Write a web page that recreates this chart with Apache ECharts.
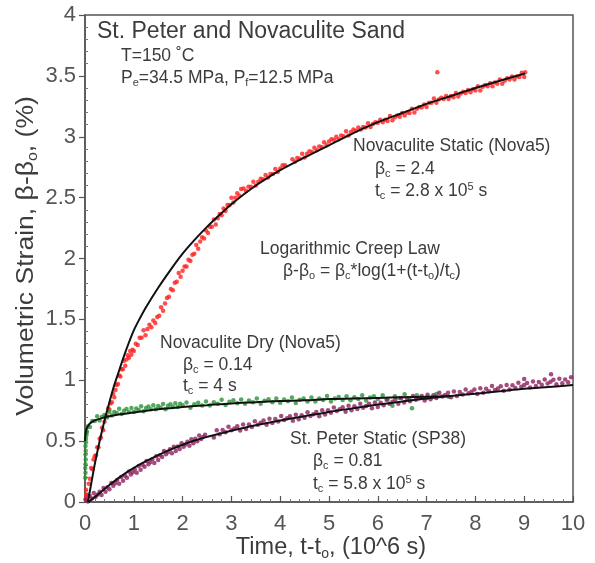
<!DOCTYPE html>
<html>
<head>
<meta charset="utf-8">
<script src="https://cdn.jsdelivr.net/npm/echarts@6/dist/echarts.min.js"></script>
<style>
  html, body { margin: 0; padding: 0; background: #fff; }
  #chart { width: 595px; height: 563px; }
</style>
</head>
<body>
<div id="chart"></div>
<script>
// Time axis in units of 10^6 s, strain in percent.
const xTicks = [0, 1, 2, 3, 4, 5, 6, 7, 8, 9, 10];
const yTicks = [0, 0.5, 1, 1.5, 2, 2.5, 3, 3.5, 4];

// Novaculite Static (Nova5) measurements [t, strain]
const novaStatic = [
  [0.01,0.02],[0.02,0.1],[0.03,0.05],[0.025,0.06],[0.05,0.06],[0.075,0.15],[0.1,0.19],[0.125,0.28],
  [0.15,0.27],[0.175,0.35],[0.2,0.375],[0.225,0.385],[0.25,0.45],[0.275,0.45],[0.3,0.52],[0.325,0.53],
  [0.35,0.61],[0.375,0.59],[0.4,0.66],[0.425,0.705],[0.45,0.705],[0.475,0.77],[0.5,0.76],[0.525,0.81],
  [0.55,0.82],[0.575,0.89],[0.6,0.86],[0.625,0.92],[0.65,0.96],[0.675,0.97],[0.7,1.04],[0.725,1.03],
  [0.75,1.09],[0.775,1.09],[0.8,1.16],[0.825,1.12],[0.85,1.17],[0.875,1.205],[0.9,1.185],[0.925,1.24],
  [0.95,1.21],[0.975,1.25],[1.0,1.24],
  [1.04,1.3],[1.08,1.29],[1.12,1.35],[1.16,1.35],[1.2,1.41],[1.24,1.37],[1.28,1.42],[1.32,1.455],
  [1.36,1.435],[1.4,1.49],[1.44,1.47],[1.48,1.52],[1.52,1.53],[1.56,1.6],[1.6,1.57],[1.64,1.63],
  [1.68,1.675],[1.72,1.685],[1.76,1.75],[1.8,1.74],[1.84,1.8],[1.88,1.81],[1.92,1.88],[1.96,1.85],
  [2.0,1.9],[2.04,1.935],[2.08,1.935],[2.12,1.99],[2.16,1.98],[2.2,2.03],[2.24,2.04],[2.28,2.11],
  [2.32,2.08],[2.36,2.14],[2.4,2.175],[2.44,2.165],[2.48,2.23],[2.52,2.21],[2.56,2.26],[2.6,2.26],
  [2.64,2.32],[2.68,2.28],[2.72,2.33],[2.76,2.365],[2.8,2.355],[2.84,2.41],[2.88,2.39],[2.92,2.44],
  [2.96,2.44],[3.0,2.5],[3.04,2.46],[3.08,2.5],[3.12,2.535],[3.16,2.515],[3.2,2.57],
  [3.25,2.575],[3.3,2.555],[3.35,2.59],[3.4,2.59],[3.45,2.63],[3.5,2.6],[3.55,2.63],[3.6,2.655],
  [3.65,2.65],[3.7,2.685],[3.75,2.665],[3.8,2.695],[3.85,2.695],[3.9,2.735],[3.95,2.71],[4.0,2.74],
  [4.05,2.765],[4.1,2.765],[4.25,2.815],[4.3,2.795],[4.35,2.825],[4.4,2.82],[4.45,2.86],[4.5,2.83],
  [4.55,2.86],[4.6,2.88],[4.65,2.875],[4.7,2.91],[4.75,2.89],[4.8,2.92],[4.85,2.915],[4.9,2.955],
  [4.95,2.93],[5.0,2.96],[5.05,2.98],[5.1,2.975],[5.15,3.0],[5.2,2.98],[5.25,3.01],[5.3,3.005],
  [5.35,3.045],[5.4,3.01],[5.45,3.04],[5.5,3.06],[5.55,3.05],[5.6,3.075],[5.65,3.06],[5.7,3.08],
  [5.75,3.075],[5.8,3.11],[5.85,3.08],[5.9,3.105],[5.95,3.12],[6.0,3.115],[6.05,3.14],[6.1,3.12],
  [6.15,3.14],[6.2,3.13],[6.25,3.17],[6.3,3.135],[6.35,3.16],[6.4,3.175],[6.45,3.165],[6.5,3.195],
  [6.55,3.175],[6.6,3.2],[6.65,3.195],[6.7,3.23],[6.75,3.2],[6.8,3.23],[6.85,3.245],[6.9,3.24],
  [6.95,3.265],[7.0,3.245],[7.05,3.28],[7.1,3.28],[7.15,3.315],[7.2,3.28],[7.22,3.53],[7.25,3.305],
  [7.3,3.32],[7.35,3.31],[7.4,3.335],[7.45,3.31],[7.5,3.335],[7.55,3.325],[7.6,3.36],[7.65,3.33],
  [7.7,3.355],[7.75,3.37],[7.8,3.36],[7.85,3.385],[7.9,3.365],[7.95,3.39],[8.0,3.38],[8.05,3.415],
  [8.1,3.38],[8.15,3.41],[8.2,3.425],[8.25,3.415],[8.3,3.44],[8.35,3.415],[8.4,3.445],[8.45,3.435],
  [8.5,3.47],[8.55,3.435],[8.6,3.46],[8.65,3.48],[8.7,3.47],[8.75,3.495],[8.8,3.47],[8.85,3.495],
  [8.9,3.49],[8.95,3.525],[9.0,3.49],[9.02,3.53]
];

// Novaculite Dry (Nova5) measurements [t, strain]
const novaDry = [
  [0.005,0.2],[0.01,0.24],[0.005,0.28],[0.01,0.31],[0.015,0.35],[0.01,0.39],[0.015,0.42],[0.01,0.46],
  [0.02,0.49],[0.02,0.52],[0.03,0.55],[0.03,0.57],[0.04,0.58],
  [0.05,0.62],[0.1,0.615],[0.15,0.665],[0.2,0.665],[0.25,0.705],[0.3,0.67],[0.35,0.7],[0.4,0.715],
  [0.45,0.695],[0.5,0.74],[0.55,0.71],[0.6,0.74],[0.65,0.73],[0.7,0.765],[0.75,0.722],[0.8,0.75],
  [0.85,0.763],[0.9,0.74],[0.95,0.772],[1.0,0.74],[1.05,0.768],[1.1,0.755],[1.15,0.787],[1.2,0.745],
  [1.25,0.773],[1.3,0.785],[1.35,0.762],[1.4,0.795],[1.45,0.761],[1.5,0.788],[1.55,0.774],[1.6,0.805],
  [1.65,0.762],[1.7,0.79],[1.75,0.802],[1.8,0.78],[1.85,0.812],[1.9,0.78],[1.95,0.807],[2.0,0.795],
  [2.08,0.818],[2.16,0.775],[2.24,0.803],[2.32,0.815],[2.4,0.792],[2.48,0.825],[2.56,0.792],[2.64,0.82],
  [2.72,0.807],[2.8,0.839],[2.88,0.796],[2.96,0.824],[3.04,0.835],[3.12,0.811],[3.2,0.842],[3.28,0.808],
  [3.36,0.834],[3.44,0.82],[3.52,0.85],[3.6,0.806],[3.68,0.832],[3.76,0.843],[3.84,0.819],[3.92,0.85],
  [4.0,0.815],[4.08,0.841],[4.16,0.827],[4.24,0.858],[4.32,0.813],[4.4,0.839],[4.48,0.85],[4.56,0.826],
  [4.64,0.858],[4.72,0.825],[4.8,0.851],[4.88,0.838],[4.96,0.87],[5.04,0.825],[5.12,0.851],[5.2,0.862],
  [5.28,0.838],[5.36,0.869],[5.44,0.835],[5.52,0.86],[5.6,0.846],[5.68,0.877],[5.76,0.833],[5.84,0.858],
  [5.92,0.869],[6.0,0.845],[6.1,0.876],[6.2,0.842],[6.3,0.79],[6.35,0.868],[6.45,0.855],[6.55,0.885],
  [6.65,0.841],[6.7,0.77],[6.8,0.877],[7.0,0.855],[7.2,0.887],[7.45,0.865]
];

// St. Peter Static (SP38) measurements [t, strain]
const stPeter = [
  [0.02,0.02],[0.06,0.005],[0.1,0.05],[0.14,0.029],[0.18,0.073],[0.22,0.044],[0.26,0.062],[0.3,0.085],
  [0.34,0.057],[0.38,0.114],[0.42,0.084],[0.46,0.122],[0.5,0.105],[0.54,0.157],[0.58,0.134],[0.62,0.155],
  [0.66,0.18],[0.7,0.15],[0.74,0.205],[0.78,0.175],[0.82,0.215],[0.86,0.2],[0.9,0.25],[0.94,0.225],
  [0.98,0.245],[1.02,0.27],[1.06,0.24],[1.1,0.295],[1.14,0.265],[1.18,0.305],[1.22,0.289],[1.26,0.337],
  [1.3,0.31],[1.34,0.328],[1.38,0.351],[1.42,0.32],[1.46,0.375],[1.5,0.345],[1.54,0.385],[1.58,0.37],
  [1.62,0.419],[1.66,0.392],[1.7,0.41],[1.74,0.433],[1.78,0.401],[1.82,0.453],[1.86,0.419],[1.9,0.455],
  [1.94,0.436],[1.98,0.482],[2.02,0.454],[2.06,0.472],[2.1,0.495],[2.14,0.463],[2.18,0.516],[2.22,0.483],
  [2.26,0.519],[2.3,0.5],[2.34,0.546],[2.38,0.517],[2.42,0.533],[2.46,0.553],
  [2.64,0.53],[2.7,0.59],[2.76,0.556],[2.82,0.592],[2.88,0.573],[2.94,0.619],[3.0,0.59],[3.06,0.604],
  [3.12,0.623],[3.18,0.587],[3.24,0.636],[3.3,0.6],[3.36,0.636],[3.42,0.617],[3.48,0.663],[3.54,0.634],
  [3.6,0.65],[3.66,0.669],[3.72,0.634],[3.78,0.683],[3.84,0.648],[3.9,0.682],[3.96,0.662],[4.02,0.706],
  [4.08,0.674],[4.14,0.687],[4.2,0.705],[4.26,0.668],[4.32,0.716],[4.38,0.679],[4.44,0.713],[4.5,0.692],
  [4.56,0.737],[4.62,0.706],[4.68,0.721],[4.74,0.74],[4.8,0.705],[4.86,0.754],[4.92,0.719],[4.98,0.753],
  [5.04,0.733],[5.1,0.777],[5.16,0.747],[5.22,0.761],[5.28,0.779],[5.34,0.742],[5.4,0.79],[5.46,0.753],
  [5.52,0.786],[5.58,0.764],[5.64,0.807],[5.7,0.775],[5.76,0.788],[5.82,0.806],[5.88,0.769],[5.94,0.817],
  [6.0,0.78],[6.06,0.815],[6.12,0.794],[6.18,0.839],[6.24,0.808],[6.3,0.823],[6.36,0.842],[6.42,0.806],
  [6.48,0.854],[6.54,0.817],[6.6,0.85],[6.66,0.828],[6.72,0.871],[6.78,0.839],[6.84,0.852],[6.9,0.87],
  [6.96,0.833],[7.02,0.881],[7.08,0.844],[7.14,0.877],[7.2,0.855],[7.26,0.898],[7.32,0.866],[7.38,0.879],
  [7.44,0.897],[7.5,0.86],[7.56,0.908],[7.62,0.871],[7.68,0.904],[7.74,0.882],[7.8,0.925],[7.86,0.893],
  [7.92,0.906],[7.98,0.924],[8.04,0.887],[8.1,0.935],[8.16,0.898],[8.22,0.931],[8.28,0.909],[8.34,0.952],
  [8.4,0.92],[8.46,0.933],[8.52,0.951],[8.58,0.914],[8.64,0.962],[8.7,0.925],[8.76,0.958],[8.82,0.936],
  [8.88,0.979],[8.94,0.947],[9.0,0.96],[9.0,1.01],[9.06,0.978],[9.12,0.941],[9.18,0.989],[9.24,0.952],
  [9.3,0.985],[9.36,0.963],[9.42,1.006],[9.48,0.974],[9.54,0.987],[9.55,1.05],[9.6,1.005],[9.66,0.967],
  [9.72,1.013],[9.78,0.975],[9.84,1.006],[9.9,0.983],[9.96,1.025]
];

// Logarithmic creep-law fits traced along each data set [t, strain]
const fitStatic = [
  [0.06,0],[0.1,0.09],[0.15,0.2],[0.2,0.31],[0.3,0.5],[0.4,0.67],[0.5,0.82],[0.6,0.96],
  [0.7,1.08],[0.8,1.2],[0.9,1.31],[1.0,1.41],[1.1,1.49],[1.25,1.6],[1.5,1.76],[1.75,1.905],
  [2.0,2.04],[2.25,2.155],[2.5,2.26],[2.75,2.355],[3.0,2.445],[3.25,2.525],[3.5,2.6],[3.75,2.665],
  [4.0,2.725],[4.5,2.83],[5.0,2.93],[5.5,3.03],[6.0,3.12],[6.5,3.195],[7.0,3.27],[7.5,3.335],
  [8.0,3.4],[8.5,3.46],[9.02,3.52]
];
const fitDry = [
  [0,0.5],[0.01,0.56],[0.03,0.6],[0.06,0.625],[0.1,0.645],[0.15,0.66],[0.2,0.67],[0.31,0.685],
  [0.4,0.695],[0.5,0.705],[0.72,0.72],[1.0,0.735],[1.26,0.75],[1.6,0.765],[2.0,0.78],[2.5,0.795],
  [3.0,0.81],[3.5,0.82],[4.0,0.83],[4.5,0.835],[5.0,0.845],[5.5,0.85],[6.0,0.855],[6.5,0.86],
  [7.0,0.865],[7.5,0.87]
];
const fitStPeter = [
  [0.07,0],[0.2,0.04],[0.35,0.09],[0.5,0.14],[0.75,0.215],[1.0,0.28],[1.25,0.335],[1.5,0.385],
  [1.75,0.43],[2.0,0.47],[2.25,0.505],[2.5,0.535],[2.75,0.56],[3.0,0.585],[3.5,0.63],[4.0,0.67],
  [4.5,0.705],[5.0,0.74],[5.5,0.77],[6.0,0.8],[6.5,0.825],[7.0,0.85],[7.5,0.87],[8.0,0.89],
  [8.5,0.91],[9.0,0.93],[9.5,0.945],[10,0.96]
];

const FONT = '"Liberation Sans", Arial, Helvetica, sans-serif';
const TXT = '#3c3c3c';

const rich = {
  a: { fontSize: 17.5, fontFamily: FONT, color: TXT, lineHeight: 20 },
  s: { fontSize: 11, fontFamily: FONT, color: TXT, lineHeight: 7, verticalAlign: 'bottom' },
  p: { fontSize: 11, fontFamily: FONT, color: TXT, lineHeight: 8, verticalAlign: 'top' }
};

function label(x, y, text) {
  return {
    type: 'text', left: x, top: y - 10, z: 50,
    style: { text: text, rich: rich, font: '17.5px ' + FONT, fill: TXT }
  };
}

const nameRich = {
  a: { fontSize: 23.5, fontFamily: FONT, color: TXT, lineHeight: 26 },
  s: { fontSize: 14, fontFamily: FONT, color: TXT, lineHeight: 10, verticalAlign: 'bottom' }
};

// Axis titles: centred at (x, y), optionally rotated and stretched along the text direction
function axisTitle(x, y, rot, stretch, text) {
  return {
    type: 'text', x: x, y: y, rotation: rot, scaleX: stretch, z: 50,
    style: {
      text: text, rich: nameRich, font: '23.5px ' + FONT, fill: TXT,
      align: 'center', verticalAlign: 'middle',
      textAlign: 'center', textVerticalAlign: 'middle'
    }
  };
}

const chart = echarts.init(document.getElementById('chart'), null, { renderer: 'canvas' });

chart.setOption({
  animation: false,
  backgroundColor: '#fff',
  grid: {
    left: 85, right: 22, top: 15, bottom: 61,
    show: true, borderColor: '#555', borderWidth: 1.5, backgroundColor: 'transparent'
  },
  xAxis: {
    type: 'value', min: xTicks[0], max: xTicks[xTicks.length - 1], interval: 1,
    axisLine: { show: true, lineStyle: { color: '#555', width: 1.5 } },
    axisTick: { show: true, inside: true, length: 6, lineStyle: { color: '#555', width: 1.2 } },
    minorTick: { show: true, splitNumber: 5, length: 3, lineStyle: { color: '#777' } },
    splitLine: { show: false },
    axisLabel: { fontSize: 22, fontFamily: FONT, color: '#555', margin: 11 }
  },
  yAxis: [{
    type: 'value', min: yTicks[0], max: yTicks[yTicks.length - 1], interval: 0.5,
    axisLine: { show: true, lineStyle: { color: '#555', width: 1.5 } },
    axisTick: { show: true, inside: false, length: 6, lineStyle: { color: '#555', width: 1.2 } },
    splitLine: { show: false },
    axisLabel: { fontSize: 22, fontFamily: FONT, color: '#555', margin: 9 }
  }, {
    type: 'value', min: yTicks[0], max: yTicks[yTicks.length - 1], interval: 0.5,
    position: 'left',
    axisLine: { show: false },
    axisTick: { show: true, inside: true, length: 0.01, lineStyle: { color: 'rgba(0,0,0,0)' } },
    minorTick: { show: true, splitNumber: 5, length: 3, lineStyle: { color: '#777' } },
    splitLine: { show: false },
    axisLabel: { show: false }
  }],
  series: [
    { type: 'scatter', name: 'Novaculite Static (Nova5)', data: novaStatic, symbolSize: 4.5,
      itemStyle: { color: '#ff2020' }, z: 2 },
    { type: 'scatter', name: 'Novaculite Dry (Nova5)', data: novaDry, symbolSize: 4.5,
      itemStyle: { color: '#2c9238' }, z: 2 },
    { type: 'scatter', name: 'St. Peter Static (SP38)', data: stPeter, symbolSize: 4.5,
      itemStyle: { color: '#8e1f5f' }, z: 2 },
    { type: 'line', data: fitStatic, smooth: 0.3, showSymbol: false,
      lineStyle: { color: '#111', width: 2 }, z: 5 },
    { type: 'line', data: fitDry, smooth: 0.3, showSymbol: false,
      lineStyle: { color: '#111', width: 2 }, z: 5 },
    { type: 'line', data: fitStPeter, smooth: 0.3, showSymbol: false,
      lineStyle: { color: '#111', width: 2 }, z: 5 }
  ],
  graphic: [
    axisTitle(27, 256, Math.PI / 2, 1.13, '{a|Volumetric Strain, β-β}{s|o}{a|, (%)}'),
    axisTitle(331, 548, 0, 1, '{a|Time, t-t}{s|o}{a|, (10^6 s)}'),
    { type: 'text', left: 97, top: 20, z: 50,
      style: { text: 'St. Peter and Novaculite Sand', font: '23px ' + FONT, fill: TXT } },
    label(121, 57, '{a|T=150 ˚C}'),
    label(121, 79, '{a|P}{s|e}{a|=34.5 MPa, P}{s|f}{a|=12.5 MPa}'),
    label(353, 147, '{a|Novaculite Static (Nova5)}'),
    label(375, 170, '{a|β}{s|c}{a| = 2.4}'),
    label(375, 191, '{a|t}{s|c}{a| = 2.8 x 10}{p|5}{a| s}'),
    label(260, 250, '{a|Logarithmic Creep Law}'),
    label(283, 272, '{a|β-β}{s|o}{a| = β}{s|c}{a|*log(1+(t-t}{s|o}{a|)/t}{s|c}{a|)}'),
    label(160, 344, '{a|Novaculite Dry (Nova5)}'),
    label(183, 366, '{a|β}{s|c}{a| = 0.14}'),
    label(183, 387, '{a|t}{s|c}{a| = 4 s}'),
    label(290, 440, '{a|St. Peter Static (SP38)}'),
    label(313, 462, '{a|β}{s|c}{a| = 0.81}'),
    label(313, 484, '{a|t}{s|c}{a| = 5.8 x 10}{p|5}{a| s}')
  ]
});
</script>
</body>
</html>
